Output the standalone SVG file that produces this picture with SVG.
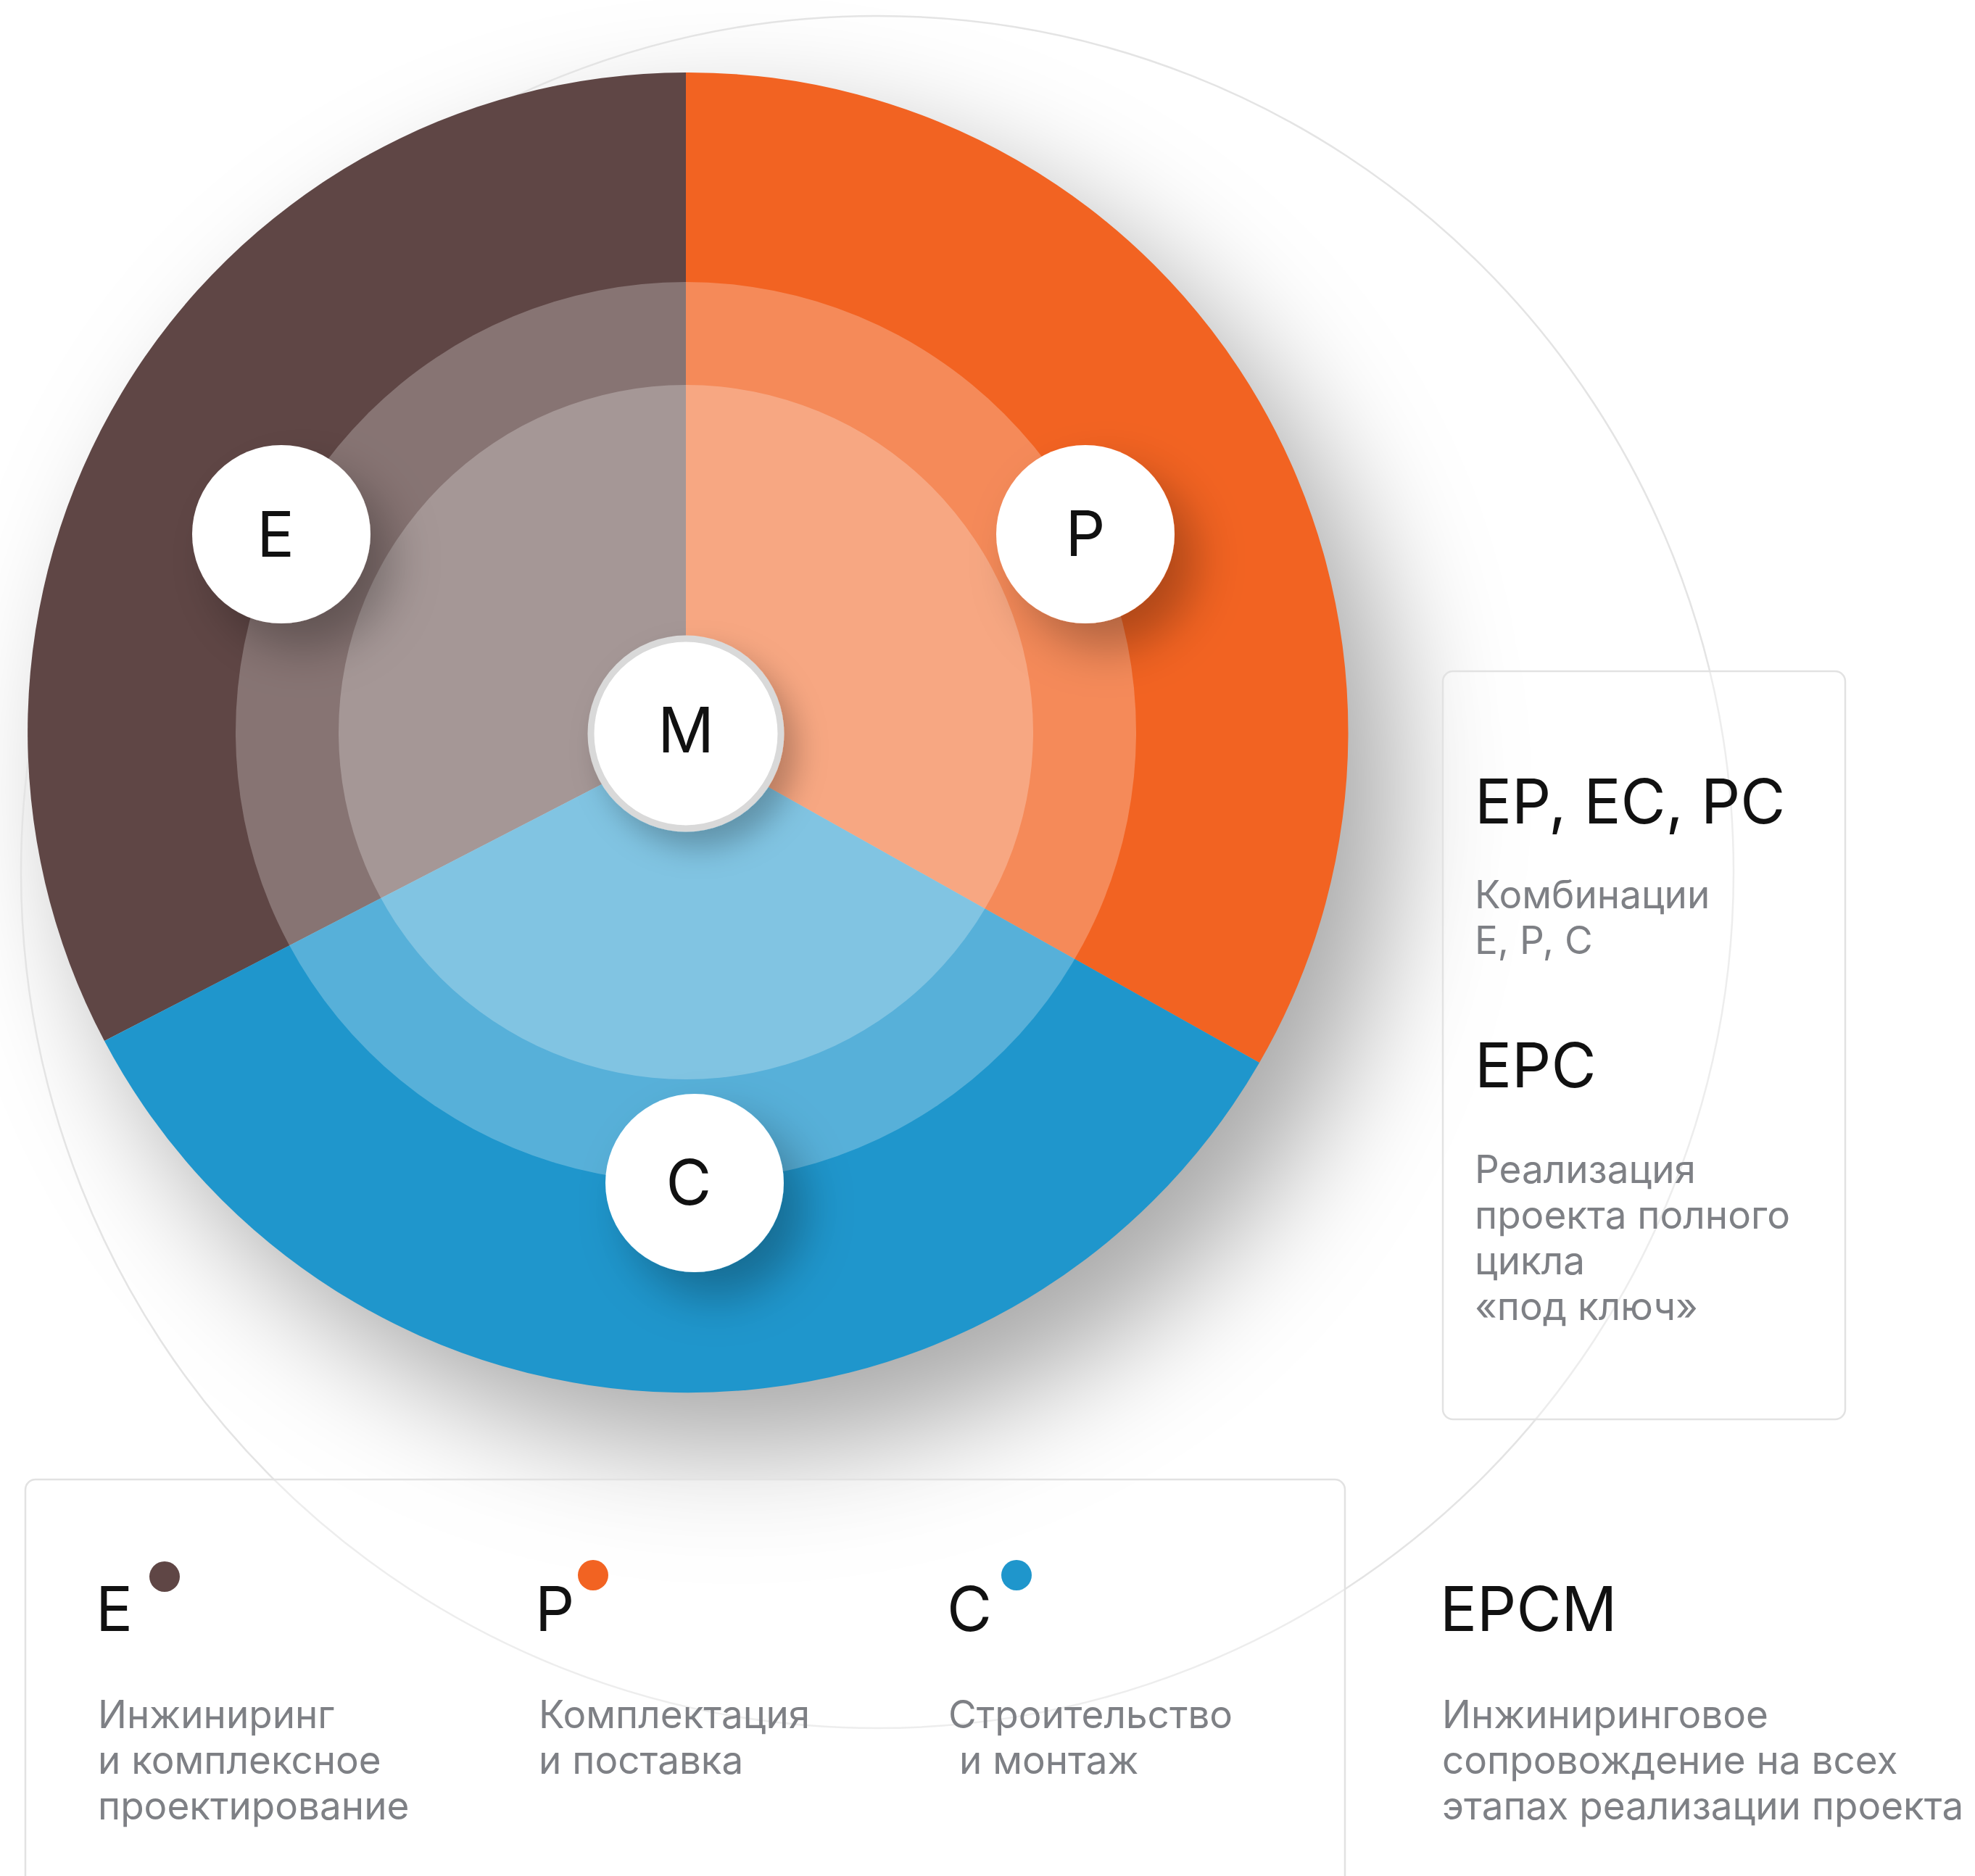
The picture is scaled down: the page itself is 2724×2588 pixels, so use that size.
<svg xmlns="http://www.w3.org/2000/svg" width="2724" height="2588" viewBox="0 0 2724 2588">
<style>
.ttl{font-family:Inter,"Liberation Sans",sans-serif;font-size:85px;fill:#111;}
.lbl{font-family:Inter,"Liberation Sans",sans-serif;font-size:86px;fill:#111;text-anchor:middle;}
.dsc{font-family:Inter,"Liberation Sans",sans-serif;font-size:53px;fill:#7e8085;}
.node{fill:#fff;}
.box{fill:#ffffff;fill-opacity:0.35;stroke:#e2e2e2;stroke-width:2.5;}
.ov{fill:#fff;fill-opacity:0.25;}
</style>
<defs>
<filter id="bigShadow" x="-30%" y="-30%" width="160%" height="160%">
<feGaussianBlur stdDeviation="85"/>
</filter>
<filter id="nodeShadow" x="-60%" y="-60%" width="220%" height="220%">
<feDropShadow dx="30" dy="35" stdDeviation="32" flood-color="#000" flood-opacity="0.28"/>
</filter>
<filter id="mShadow" x="-60%" y="-60%" width="220%" height="220%">
<feDropShadow dx="18" dy="22" stdDeviation="20" flood-color="#000" flood-opacity="0.25"/>
</filter>
</defs>
<rect width="2724" height="2588" fill="#ffffff"/>
<g id="background">
<circle cx="1015" cy="1090" r="910" fill="#000" fill-opacity="0.34" filter="url(#bigShadow)"/>
<circle cx="1210" cy="1203" r="1181" fill="none" stroke="#e4e4e4" stroke-width="2.5"/>
</g>
<g id="panel-right">
<rect class="box" x="1990" y="926" width="555" height="1032" rx="14"/>
<text class="ttl" x="2034" y="1136">EP, EC, PC</text>
<text class="dsc" x="2034" y="1253">Комбинации</text>
<text class="dsc" x="2034" y="1316">E, P, C</text>
<text class="ttl" x="2034" y="1500">EPC</text>
<text class="dsc" x="2034" y="1632">Реализация</text>
<text class="dsc" x="2034" y="1695">проекта полного</text>
<text class="dsc" x="2034" y="1758">цикла</text>
<text class="dsc" x="2034" y="1821">«под ключ»</text>
</g>
<g id="panel-bottom">
<rect class="box" x="35" y="2041" width="1820" height="620" rx="14"/>
</g>
<g id="wheel">
<path d="M946,1022 L946,100 A910,910 0 0 0 144,1436 Z" fill="#5f4645"/>
<path d="M946,1022 L946,100 A910,910 0 0 1 1737,1466 Z" fill="#f26322"/>
<path d="M946,1022 L1737,1466 A910,910 0 0 1 144,1436 Z" fill="#1f96cc"/>
<circle class="ov" cx="946" cy="1010" r="621"/>
<circle class="ov" cx="946" cy="1010" r="479"/>
</g>
<g id="node-E">
<circle class="node" cx="388" cy="737" r="123" filter="url(#nodeShadow)"/>
<text class="lbl" x="380" y="768">E</text>
</g>
<g id="node-P">
<circle class="node" cx="1497" cy="737" r="123" filter="url(#nodeShadow)"/>
<text class="lbl" x="1497" y="767">P</text>
</g>
<g id="node-C">
<circle class="node" cx="958" cy="1632" r="123" filter="url(#nodeShadow)"/>
<text class="lbl" x="950" y="1662">C</text>
</g>
<g id="node-M">
<circle class="node" cx="946" cy="1012" r="131" stroke="#d9d9d9" stroke-width="9" filter="url(#mShadow)"/>
<text class="lbl" x="946" y="1038">M</text>
</g>
<g id="legend-E">
<text class="ttl" x="132" y="2250">E</text>
<circle cx="227" cy="2175" r="21" fill="#5f4645"/>
<text class="dsc" x="135" y="2384">Инжиниринг</text>
<text class="dsc" x="135" y="2447">и комплексное</text>
<text class="dsc" x="135" y="2510">проектирование</text>
</g>
<g id="legend-P">
<text class="ttl" x="738" y="2250">P</text>
<circle cx="818" cy="2173" r="21" fill="#f26322"/>
<text class="dsc" x="743" y="2384">Комплектация</text>
<text class="dsc" x="743" y="2447">и поставка</text>
</g>
<g id="legend-C">
<text class="ttl" x="1306" y="2250">C</text>
<circle cx="1402" cy="2173" r="21" fill="#1f96cc"/>
<text class="dsc" x="1308" y="2384">Строительство</text>
<text class="dsc" x="1308" y="2447" xml:space="preserve"> и монтаж</text>
</g>
<g id="legend-EPCM">
<text class="ttl" x="1986" y="2250">EPCM</text>
<text class="dsc" x="1989" y="2384">Инжиниринговое</text>
<text class="dsc" x="1989" y="2447">сопровождение на всех</text>
<text class="dsc" x="1989" y="2510">этапах реализации проекта</text>
</g>
</svg>
